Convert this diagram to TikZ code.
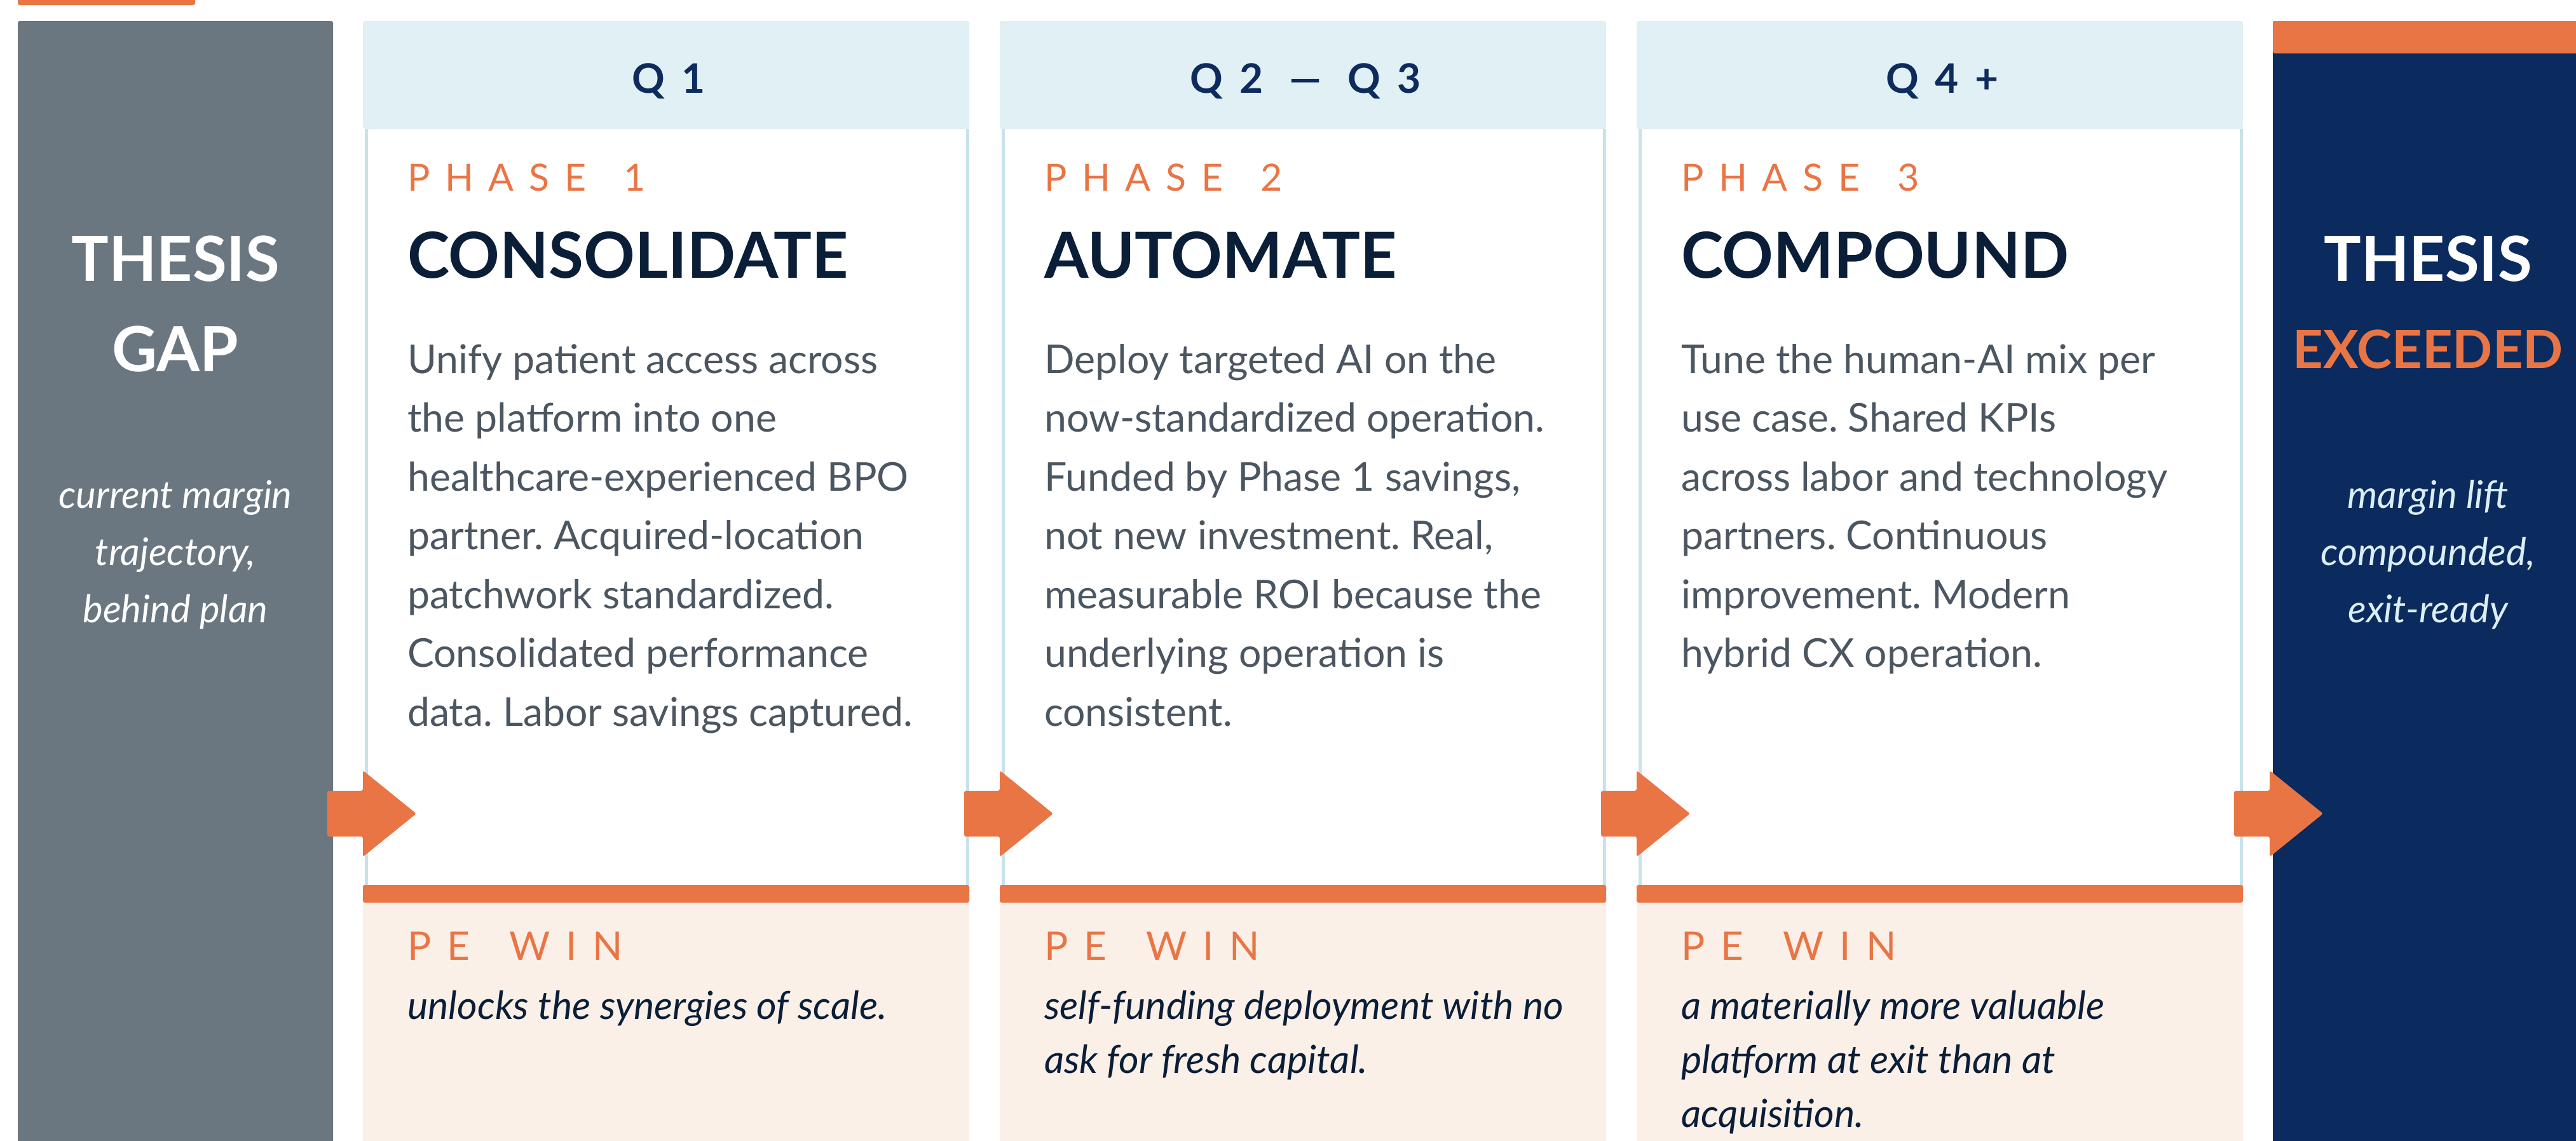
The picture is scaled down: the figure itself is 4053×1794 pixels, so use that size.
\documentclass[tikz,border=0pt]{standalone}
\usepackage{fontspec}
\setmainfont{Lato}
\newfontfamily\quarterfont[LetterSpace=40]{Lato}

\definecolor{accent}{HTML}{E97545}
\definecolor{slate}{HTML}{6B7780}
\definecolor{navy}{HTML}{0B2B5F}
\definecolor{headbg}{HTML}{E0F0F5}
\definecolor{rule}{HTML}{C9E2EC}
\definecolor{cream}{HTML}{FAF0E8}
\definecolor{ink}{HTML}{0A1E38}
\definecolor{quarter}{HTML}{0D2B5C}
\definecolor{bodygray}{HTML}{4B5661}
\definecolor{paleblue}{HTML}{DCEEF5}

% tracked capitals for the small orange labels
\ExplSyntaxOn
\NewDocumentCommand\tracked{m}{\tl_map_inline:nn{#1}{##1\kern0.4em}\unkern}
\ExplSyntaxOff
\newcommand{\trackgap}{\kern1em\relax}

% multi-line nodes sit on the baseline of their last line
\tikzset{
  quarterlabel/.style={anchor=base, inner sep=0pt, text=quarter,
    font=\quarterfont\bfseries\fontsize{64}{64}\selectfont},
  phaselabel/.style={anchor=base west, inner sep=0pt, text=accent,
    font=\fontsize{59}{59}\selectfont},
  phasename/.style={anchor=base west, inner sep=0pt, text=ink,
    font=\bfseries\fontsize{100}{100}\selectfont},
  bodytext/.style={anchor=base west, inner sep=0pt, align=left, text=bodygray,
    font=\frenchspacing\fontsize{62.5}{92.5}\selectfont},
  winlabel/.style={phaselabel, font=\fontsize{62}{62}\selectfont},
  wintext/.style={anchor=base west, inner sep=0pt, align=left, text=ink,
    font=\frenchspacing\itshape\fontsize{61}{85}\selectfont},
  thesis/.style={anchor=base, inner sep=0pt, text=white,
    font=\bfseries\fontsize{98}{98}\selectfont},
  sidenote/.style={anchor=base, inner sep=0pt, align=center,
    font=\itshape\fontsize{60}{90}\selectfont},
}

\begin{document}
\begin{tikzpicture}[x=1pt,y=-1pt]
  \clip (0,0) rectangle (4053,1794);

  % side panels
  \fill[accent, rounded corners=3pt] (28,-20) rectangle (307,8);
  \fill[slate, rounded corners=3pt] (28,33) rectangle (524,1820);
  \fill[navy, rounded corners=3pt] (3576,33) rectangle (4090,1820);
  \fill[accent, rounded corners=3pt] (3576,33) rectangle (4090,84);

  % phase columns
  \foreach \l in {571,1573,2575}{
    \fill[headbg, rounded corners=3pt] (\l,33) rectangle (\l+954,203);
    \draw[rule, line width=5pt] (\l+5,203) -- (\l+5,1392)
                                (\l+951,203) -- (\l+951,1392);
    \fill[cream] (\l,1420) rectangle (\l+954,1820);
    \fill[accent, rounded corners=3pt] (\l,1392) rectangle (\l+954,1420);
  }

  % block arrows between the stages
  \foreach \b in {571,1573,2575,3571}
    \fill[accent, rounded corners=3pt]
      (\b-56,1244) -- (\b,1244) -- (\b,1212) -- (\b+84,1280)
      -- (\b,1348) -- (\b,1316) -- (\b-56,1316) -- cycle;

  % left panel
  \node[thesis] (gapA) at (276,442) {THESIS};
  \node[thesis] (gapB) at (276,584) {GAP};
  \node[sidenote, text=white] (gapnote) at (276,979)
    {current margin\\trajectory,\\behind plan};

  % right panel
  \node[thesis] (exA) at (3820,442) {THESIS};
  \node[thesis, text=accent, font=\bfseries\fontsize{83}{83}\selectfont]
    (exB) at (3820,579) {EXCEEDED};
  \node[sidenote, text=paleblue] (exnote) at (3820,979)
    {margin lift\\compounded,\\exit-ready};

  % phase 1
  \node[quarterlabel] (q1) at (1052,146) {Q1};
  \node[phaselabel] (ph1) at (641,300) {\tracked{PHASE}\trackgap\tracked{1}};
  \node[phasename] (name1) at (641,437) {CONSOLIDATE};
  \node[bodytext] (body1) at (641,1142)
    {Unify patient access across\\the platform into one\\healthcare-experienced BPO\\partner. Acquired-location\\patchwork standardized.\\Consolidated performance\\data. Labor savings captured.};
  \node[winlabel] (win1) at (641,1510) {\tracked{PE}\trackgap\tracked{WIN}};
  \node[wintext] (wtext1) at (641,1603) {unlocks the synergies of scale.};

  % phase 2
  \node[quarterlabel] (q2) at (2054,146) {Q2 — Q3};
  \node[phaselabel] (ph2) at (1643,300) {\tracked{PHASE}\trackgap\tracked{2}};
  \node[phasename] (name2) at (1643,437) {AUTOMATE};
  \node[bodytext] (body2) at (1643,1142)
    {Deploy targeted AI on the\\now-standardized operation.\\Funded by Phase 1 savings,\\not new investment. Real,\\measurable ROI because the\\underlying operation is\\consistent.};
  \node[winlabel] (win2) at (1643,1510) {\tracked{PE}\trackgap\tracked{WIN}};
  \node[wintext] (wtext2) at (1643,1688)
    {self-funding deployment with no\\ask for fresh capital.};

  % phase 3
  \node[quarterlabel] (q3) at (3056,146) {Q4+};
  \node[phaselabel] (ph3) at (2645,300) {\tracked{PHASE}\trackgap\tracked{3}};
  \node[phasename] (name3) at (2645,437) {COMPOUND};
  \node[bodytext] (body3) at (2645,1049.5)
    {Tune the human-AI mix per\\use case. Shared KPIs\\across labor and technology\\partners. Continuous\\improvement. Modern\\hybrid CX operation.};
  \node[winlabel] (win3) at (2645,1510) {\tracked{PE}\trackgap\tracked{WIN}};
  \node[wintext] (wtext3) at (2645,1773)
    {a materially more valuable\\platform at exit than at\\acquisition.};
\end{tikzpicture}
\end{document}
